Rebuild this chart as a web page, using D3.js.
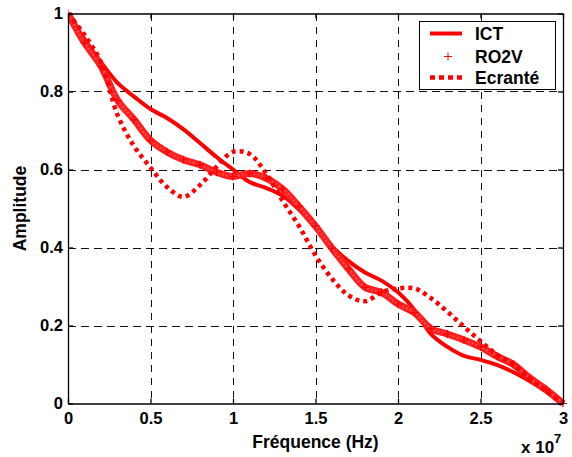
<!DOCTYPE html>
<html>
<head>
<meta charset="utf-8">
<script src="https://cdn.jsdelivr.net/npm/d3@7"></script>
<style>
  html, body { margin: 0; padding: 0; background: #fff; }
  svg { display: block; font-family: "Liberation Sans", Arial, sans-serif; font-weight: bold; }
</style>
</head>
<body>
<svg id="chart" width="572" height="457"></svg>
<script>
// Frequency samples (Hz)
const freq = [0, 1e6, 2e6, 3e6, 4e6, 5e6, 6e6, 7e6, 8e6, 9e6, 10e6,
  11e6, 12e6, 13e6, 14e6, 15e6, 16e6, 17e6, 18e6, 19e6, 20e6,
  21e6, 22e6, 23e6, 24e6, 25e6, 26e6, 27e6, 28e6, 29e6, 30e6];

// Normalised amplitude of each configuration
const ict = [1.0, 0.935, 0.875, 0.822, 0.787, 0.755, 0.732, 0.703, 0.668, 0.632, 0.600,
  0.568, 0.553, 0.533, 0.497, 0.450, 0.403, 0.365, 0.336, 0.315, 0.285,
  0.240, 0.178, 0.145, 0.122, 0.112, 0.099, 0.080, 0.057, 0.030, 0.0];
const ro2v = [1.0, 0.925, 0.865, 0.778, 0.728, 0.675, 0.645, 0.625, 0.612, 0.593, 0.582,
  0.590, 0.578, 0.550, 0.505, 0.455, 0.398, 0.345, 0.298, 0.285, 0.255,
  0.233, 0.192, 0.178, 0.163, 0.145, 0.121, 0.100, 0.065, 0.035, 0.0];
const ecrante = [1.0, 0.945, 0.875, 0.740, 0.660, 0.605, 0.555, 0.530, 0.560, 0.607, 0.645,
  0.640, 0.590, 0.520, 0.455, 0.380, 0.320, 0.277, 0.262, 0.285, 0.295,
  0.295, 0.270, 0.235, 0.197, 0.160, 0.125, 0.100, 0.062, 0.032, 0.0];

// Axis ticks
const xTicks = [0, 0.5e7, 1e7, 1.5e7, 2e7, 2.5e7, 3e7];
const xTickLabels = ["0", "0.5", "1", "1.5", "2", "2.5", "3"];
const yTicks = [0, 0.2, 0.4, 0.6, 0.8, 1];
const yTickLabels = ["0", "0.2", "0.4", "0.6", "0.8", "1"];

const legendNames = ["ICT", "RO2V", "Ecranté"];

const RED = "#ff0000";
const svg = d3.select("#chart");
const pLeft = 68, pRight = 563, pTop = 13.5, pBottom = 403.5;

const x = d3.scaleLinear().domain([0, 3e7]).range([pLeft, pRight]);
const y = d3.scaleLinear().domain([0, 1]).range([pBottom, pTop]);

svg.append("rect").attr("x", 0).attr("y", 0).attr("width", 572).attr("height", 457).attr("fill", "#fff");

// Dashed grid
const grid = svg.append("g").attr("stroke", "#111").attr("stroke-width", 1)
  .attr("stroke-dasharray", "7.5,5.5").attr("shape-rendering", "crispEdges");
grid.selectAll(".gx").data(xTicks.slice(1, -1)).join("line")
  .attr("x1", d => Math.round(x(d)) + 0.5).attr("x2", d => Math.round(x(d)) + 0.5)
  .attr("y1", pTop).attr("y2", pBottom);
grid.selectAll(".gy").data(yTicks.slice(1, -1)).join("line")
  .attr("y1", d => Math.round(y(d)) + 0.5).attr("y2", d => Math.round(y(d)) + 0.5)
  .attr("x1", pLeft).attr("x2", pRight);

// Data curves
svg.append("clipPath").attr("id", "plot").append("rect")
  .attr("x", pLeft).attr("y", pTop - 4).attr("width", pRight - pLeft + 4).attr("height", pBottom - pTop + 8);
const plot = svg.append("g").attr("clip-path", "url(#plot)");

const line = d3.line().x((d, i) => x(freq[i])).y(d => y(d)).curve(d3.curveCatmullRom.alpha(0.5));

plot.append("path").datum(ict).attr("d", line)
  .attr("fill", "none").attr("stroke", RED).attr("stroke-width", 4).attr("stroke-linejoin", "round");

// RO2V: dense "+" markers forming a thick band
plot.append("path").datum(ro2v).attr("d", line)
  .attr("fill", "none").attr("stroke", "#ff1f1f").attr("stroke-width", 7).attr("stroke-linejoin", "round");
plot.append("path").datum(ro2v).attr("d", line)
  .attr("fill", "none").attr("stroke", "#ff5a5a").attr("stroke-width", 2).attr("stroke-dasharray", "1.5,2.5");
plot.selectAll(".m").data(ro2v).join("path")
  .attr("transform", (d, i) => `translate(${x(freq[i])},${y(d)})`)
  .attr("d", "M-4,0H4M0,-4V4")
  .attr("stroke", RED).attr("stroke-width", 1.2).attr("fill", "none");

plot.append("path").datum(ecrante).attr("d", line)
  .attr("fill", "none").attr("stroke", RED).attr("stroke-width", 4.5).attr("stroke-dasharray", "4,4");

// Axes box with inward ticks
const axes = svg.append("g");
const xAxis = d3.axisBottom(x).tickValues(xTicks).tickFormat((d, i) => xTickLabels[i])
  .tickSizeInner(-5).tickSizeOuter(0).tickPadding(9);
const yAxis = d3.axisLeft(y).tickValues(yTicks).tickFormat((d, i) => yTickLabels[i])
  .tickSizeInner(-5).tickSizeOuter(0).tickPadding(5);
axes.append("g").attr("transform", `translate(0,${pBottom})`).call(xAxis);
axes.append("g").attr("transform", `translate(${pLeft},0)`).call(yAxis);
axes.append("g").attr("transform", `translate(0,${pTop})`)
  .call(d3.axisTop(x).tickValues(xTicks).tickFormat("").tickSizeInner(-5).tickSizeOuter(0));
axes.append("g").attr("transform", `translate(${pRight},0)`)
  .call(d3.axisRight(y).tickValues(yTicks).tickFormat("").tickSizeInner(-5).tickSizeOuter(0));
axes.selectAll(".domain, .tick line").attr("stroke", "#000").attr("stroke-width", 1.3);
axes.selectAll("text").attr("fill", "#000").attr("font-size", 16.5)
  .attr("font-family", "'Liberation Sans', Arial, sans-serif").attr("font-weight", "bold");

// Axis titles
svg.append("text").attr("x", (pLeft + pRight) / 2).attr("y", 448)
  .attr("text-anchor", "middle").attr("font-size", 17.5).text("Fréquence (Hz)");
svg.append("text").attr("transform", "translate(26,208.5) rotate(-90)")
  .attr("text-anchor", "middle").attr("font-size", 17.5).text("Amplitude");

// Exponent of the frequency axis
const expo = svg.append("text").attr("x", 521).attr("y", 453).attr("font-size", 17);
expo.append("tspan").text("x 10");
expo.append("tspan").attr("dy", -10).attr("font-size", 13).text("7");

// Legend
const lg = svg.append("g");
lg.append("rect").attr("x", 419.5).attr("y", 21.5).attr("width", 136).attr("height", 68)
  .attr("fill", "#fff").attr("stroke", "#000").attr("stroke-width", 1);
const rows = [33.5, 56.5, 77.5];
lg.append("line").attr("x1", 430).attr("x2", 462).attr("y1", rows[0]).attr("y2", rows[0])
  .attr("stroke", RED).attr("stroke-width", 4);
lg.append("path").attr("transform", `translate(448,${rows[1]})`).attr("d", "M-4,0H4M0,-4V4")
  .attr("stroke", RED).attr("stroke-width", 1);
lg.append("line").attr("x1", 430).attr("x2", 462).attr("y1", rows[2]).attr("y2", rows[2])
  .attr("stroke", RED).attr("stroke-width", 4.5).attr("stroke-dasharray", "5,4");
lg.selectAll(".lt").data(legendNames).join("text")
  .attr("x", 475).attr("y", (d, i) => rows[i] + 6.5)
  .attr("font-size", 17.5).attr("fill", "#000").text(d => d);
</script>
</body>
</html>
